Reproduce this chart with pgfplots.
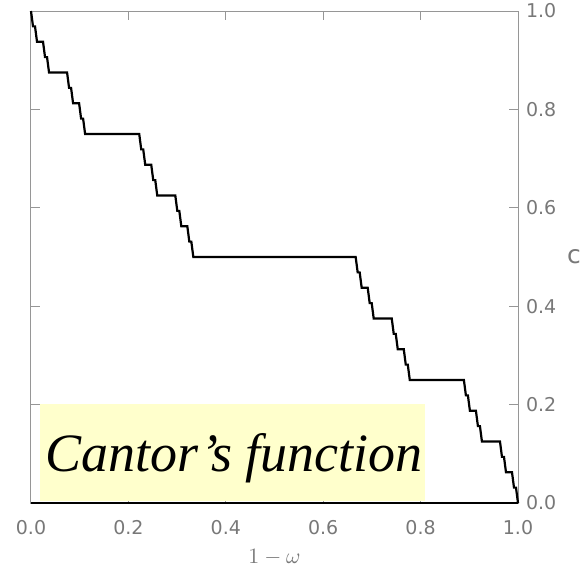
\documentclass[border=0pt]{standalone}
\usepackage{pgfplots}
\pgfplotsset{compat=1.18}
\usepackage{fontspec}
\setmainfont{Liberation Serif}
\setsansfont{DejaVu Sans}
\definecolor{axgray}{RGB}{150,150,150}
\definecolor{lblgray}{RGB}{120,120,120}
\definecolor{boxyellow}{RGB}{255,255,204}
\begin{document}
\begin{tikzpicture}
\useasboundingbox (-15.5pt,-32.5pt) rectangle (275.5pt,251.5pt);
\begin{axis}[
  at={(0,0)}, anchor=south west,
  scale only axis, width=243.5pt, height=246pt,
  xmin=0, xmax=243, ymin=0, ymax=32,
  xtick={0,48.6,97.2,145.8,194.4,243},
  xticklabels={0.0,0.2,0.4,0.6,0.8,1.0},
  ytick={0,6.4,12.8,19.2,25.6,32},
  yticklabels={0.0,0.2,0.4,0.6,0.8,1.0},
  yticklabel pos=right,
  ytick pos=both, xtick pos=both,
  tick align=inside, major tick length=4.5pt,
  axis line style={axgray, line width=0.5pt},
  tick style={axgray, line width=0.5pt},
  ticklabel style={font=\sffamily\fontsize{9.5}{11}\selectfont, text=lblgray},
  xticklabel style={yshift=-5pt},
  yticklabel style={xshift=0.5pt},
  xlabel={$1-\omega$},
  xlabel style={at={(axis description cs:0.5,0)}, anchor=center, yshift=-27pt, text=lblgray, font=\fontsize{11}{12}\selectfont},
  ylabel={c},
  ylabel style={at={(axis description cs:1,0.5)}, anchor=center, rotate=-90, xshift=28pt, text=lblgray, font=\sffamily\fontsize{12.5}{14}\selectfont},
  clip=false,
]
\fill[boxyellow] (axis cs:4.5,0.13) rectangle (axis cs:196.6,6.42);
\node[anchor=base west, font=\itshape\fontsize{27}{30}\selectfont, inner sep=0pt] at (axis cs:6.8,2.05) {Cantor’s function};
\addplot[black, line width=1.1pt, mark=none] coordinates {
(0,32) (1,31) (2,31) (3,30) (6,30) (7,29) (8,29) (9,28)
(18,28) (19,27) (20,27) (21,26) (24,26) (25,25) (26,25) (27,24)
(54,24) (55,23) (56,23) (57,22) (60,22) (61,21) (62,21) (63,20)
(72,20) (73,19) (74,19) (75,18) (78,18) (79,17) (80,17) (81,16)
(162,16) (163,15) (164,15) (165,14) (168,14) (169,13) (170,13) (171,12)
(180,12) (181,11) (182,11) (183,10) (186,10) (187,9) (188,9) (189,8)
(216,8) (217,7) (218,7) (219,6) (222,6) (223,5) (224,5) (225,4)
(234,4) (235,3) (236,3) (237,2) (240,2) (241,1) (242,1) (243,0)
};
\draw[black, line width=0.6pt] (axis description cs:0,0) -- (axis description cs:1,0);
\end{axis}
\end{tikzpicture}
\end{document}
